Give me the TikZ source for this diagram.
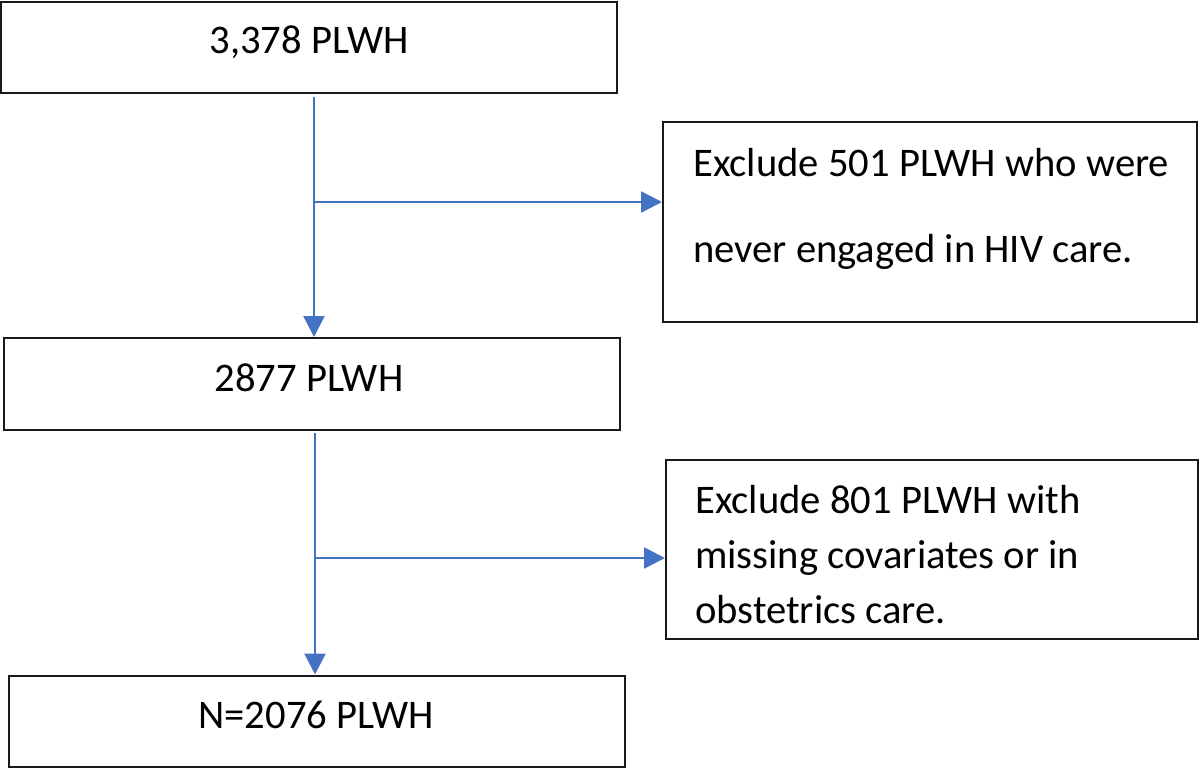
\documentclass[tikz,border=0pt]{standalone}
\usepackage{fontspec}
\setmainfont{Carlito}
\usetikzlibrary{arrows.meta}
\definecolor{flowblue}{HTML}{4472C4}
\definecolor{boxline}{HTML}{1A1A1A}
\tikzset{
  boxnode/.style={draw=boxline, line width=2pt, rectangle, inner sep=0pt},
  txt/.style={inner sep=0pt, font=\fontsize{40.6}{48}\selectfont},
  flow/.style={draw=flowblue, line width=2.4pt, -{Triangle[length=21pt,width=21pt]}}
}
\begin{document}
\begin{tikzpicture}[x=1pt,y=-1pt]
\useasboundingbox (0,0) rectangle (1200,768);
% boxes
\node[boxnode, minimum width=616pt, minimum height=91pt] (b1) at (309,47.5) {};
\node[boxnode, minimum width=534pt, minimum height=200pt] (b2) at (930,222) {};
\node[boxnode, minimum width=616pt, minimum height=92pt] (b3) at (312,384) {};
\node[boxnode, minimum width=532pt, minimum height=179pt] (b4) at (932,549) {};
\node[boxnode, minimum width=616pt, minimum height=91pt] (b5) at (316.5,721) {};
% texts
\node[txt, anchor=base] (t1) at (309,54) {3,378 PLWH};
\node[txt, anchor=base west] (t2a) at (693,176) {Exclude 501 PLWH who were};
\node[txt, anchor=base west] (t2b) at (693,262) {never engaged in HIV care.};
\node[txt, anchor=base] (t3) at (309,391) {2877 PLWH};
\node[txt, anchor=base west] (t4a) at (695,513) {Exclude 801 PLWH with};
\node[txt, anchor=base west] (t4b) at (695,568) {missing covariates or in};
\node[txt, anchor=base west] (t4c) at (695,623) {obstetrics care.};
\node[txt, anchor=base] (t5) at (316,728) {N=2076 PLWH};
% junctions
\coordinate (j1) at (314,202);
\coordinate (j2) at (315,558);
% connectors
\draw[flow] ([yshift=-3pt]b1.south -| j1) -- (b3.north -| j1);
\draw[flow] (j1) -- (b2.west |- j1);
\draw[flow] ([yshift=-2pt]b3.south -| j2) -- (b5.north -| j2);
\draw[flow] (j2) -- (b4.west |- j2);
\end{tikzpicture}
\end{document}
